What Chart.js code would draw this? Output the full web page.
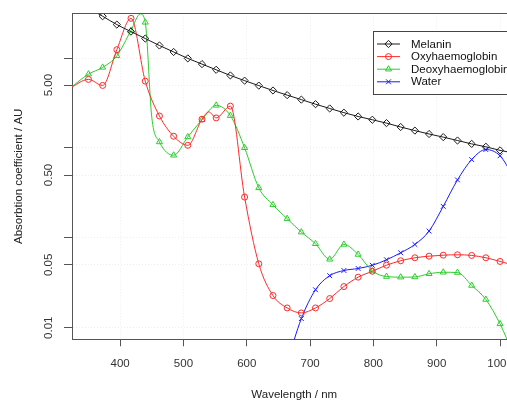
<!DOCTYPE html>
<html>
<head>
<meta charset="utf-8">
<script src="https://cdn.jsdelivr.net/npm/chart.js@4/dist/chart.umd.min.js"></script>
<style>
  html, body { margin: 0; padding: 0; background: #fff; overflow: hidden; width: 507px; height: 400px; }
  #wrap { width: 530px; height: 400px; }
</style>
</head>
<body>
<div id="wrap"><canvas id="c" width="530" height="400"></canvas></div>
<script>
// ---------- data ----------
const markerWavelengths = [350, 372.4, 394.8, 417.2, 439.7, 462.1, 484.5, 506.9, 529.3, 551.7, 574.1, 596.6, 619.0, 641.4, 663.8, 686.2, 708.6, 731.0, 753.4, 775.9, 798.3, 820.7, 843.1, 865.5, 887.9, 910.3, 932.8, 955.2, 977.6, 1000];

const melaninWavelengths = [350, 372.4, 394.8, 417.2, 439.7, 462.1, 484.5, 506.9, 529.3, 551.7, 574.1, 596.6, 619.0, 641.4, 663.8, 686.2, 708.6, 731.0, 753.4, 775.9, 798.3, 820.7, 843.1, 865.5, 887.9, 910.3, 932.8, 955.2, 977.6, 1000, 1020];
const melaninValues = [36.2, 29.2, 23.6, 19.7, 16.5, 13.8, 11.7, 9.92, 8.57, 7.41, 6.41, 5.61, 4.94, 4.36, 3.87, 3.45, 3.07, 2.75, 2.47, 2.24, 2.06, 1.89, 1.71, 1.56, 1.43, 1.32, 1.21, 1.11, 1.03, 0.94, 0.88];

const oxyWavelengths = [320, 350, 372.4, 394.8, 417.2, 439.7, 462.1, 484.5, 506.9, 529.3, 540, 551.7, 574.1, 596.6, 619.0, 641.4, 663.8, 686.2, 708.6, 731.0, 753.4, 775.9, 798.3, 820.7, 843.1, 865.5, 887.9, 910.3, 932.8, 955.2, 977.6, 1000, 1020];
const oxyValues = [4.6, 5.79, 4.96, 12.4, 27.7, 5.54, 2.27, 1.35, 1.07, 2.09, 2.52, 2.16, 2.92, 0.284, 0.0514, 0.0228, 0.0166, 0.0146, 0.0166, 0.0211, 0.0287, 0.0365, 0.0425, 0.0496, 0.0556, 0.0600, 0.0625, 0.0641, 0.0648, 0.0637, 0.0600, 0.0546, 0.0499];

const deoxyWavelengths = [320, 350, 372.4, 394.8, 417.2, 432, 439.7, 450, 462.1, 484.5, 506.9, 529.3, 551.7, 574.1, 596.6, 619.0, 641.4, 663.8, 686.2, 708.6, 731.0, 753.4, 775.9, 798.3, 820.7, 843.1, 865.5, 887.9, 910.3, 932.8, 955.2, 977.6, 1000, 1020];
const deoxyValues = [4.57, 6.63, 7.88, 10.6, 20.3, 31.0, 25.0, 2.2, 1.166, 0.829, 1.326, 2.06, 2.98, 2.29, 1.005, 0.360, 0.2327, 0.1633, 0.1158, 0.0859, 0.0577, 0.0844, 0.0653, 0.0428, 0.0371, 0.0365, 0.0367, 0.0398, 0.0414, 0.0411, 0.0295, 0.0206, 0.01103, 0.00528];

const waterWavelengths = [663.8, 686.2, 708.6, 731.0, 753.4, 775.9, 798.3, 820.7, 843.1, 865.5, 887.9, 910.3, 932.8, 955.2, 977.6, 1000, 1020];
const waterValues = [0.0041, 0.01263, 0.02645, 0.0379, 0.0433, 0.0456, 0.0495, 0.0570, 0.0682, 0.0844, 0.1188, 0.2239, 0.441, 0.7425, 0.960, 0.818, 0.496];

const seriesLabels = ['Melanin', 'Oxyhaemoglobin', 'Deoxyhaemoglobin', 'Water'];
const xTickValues = [400, 500, 600, 700, 800, 900, 1000];
const yTickValues = [0.01, 0.05, 0.1, 0.5, 1, 5, 10];
const yTickLabels = ['0.01', '0.05', '', '0.50', '', '5.00', ''];

// ---------- chart ----------
const FONT = '"Liberation Sans", Arial, Helvetica, sans-serif';
const markerSet = new Set(markerWavelengths);
const toPoints = (xs, ys) => xs.map((x, i) => ({ x: x, y: ys[i] }));

function makeSet(label, xs, ys, color, style, r) {
  return {
    label: label,
    data: toPoints(xs, ys),
    borderColor: color,
    backgroundColor: 'rgba(0,0,0,0)',
    borderWidth: 1,
    pointStyle: style,
    pointBorderColor: color,
    pointBackgroundColor: 'rgba(0,0,0,0)',
    pointBorderWidth: 1,
    pointRadius: (ctx) => (ctx.raw && markerSet.has(ctx.raw.x)) ? r : 0,
    markerRadius: r,
    cubicInterpolationMode: 'monotone',
    clip: 0,
    fill: false
  };
}

const boxAndLegend = {
  id: 'boxAndLegend',
  afterDraw(chart) {
    const ctx = chart.ctx;
    const a = chart.chartArea;
    ctx.save();
    // top / right frame of the plot box
    ctx.strokeStyle = '#555';
    ctx.lineWidth = 1;
    ctx.beginPath();
    ctx.moveTo(Math.round(a.left) + 0.5, Math.round(a.top) + 0.5);
    ctx.lineTo(Math.round(a.right) + 0.5, Math.round(a.top) + 0.5);
    ctx.lineTo(Math.round(a.right) + 0.5, Math.round(a.bottom) + 0.5);
    ctx.stroke();

    // legend
    const lx = 373.5, ly = 31.5, lw = 150, lh = 63;
    ctx.fillStyle = '#fff';
    ctx.fillRect(lx, ly, lw, lh);
    ctx.strokeStyle = '#444';
    ctx.strokeRect(lx, ly, lw, lh);
    ctx.font = '11.5px ' + FONT;
    ctx.textBaseline = 'middle';
    ctx.textAlign = 'left';
    chart.data.datasets.forEach((ds, i) => {
      const y = 44 + i * 12.6;
      ctx.strokeStyle = ds.borderColor;
      ctx.lineWidth = 1;
      ctx.setLineDash([]);
      ctx.beginPath();
      ctx.moveTo(377, y);
      ctx.lineTo(400, y);
      ctx.stroke();
      ctx.fillStyle = 'rgba(0,0,0,0)';
      Chart.helpers.drawPoint(ctx, { pointStyle: ds.pointStyle, radius: ds.markerRadius, borderWidth: 1, rotation: 0 }, 388.5, y);
      ctx.fillStyle = '#111';
      ctx.fillText(ds.label, 411, y + 0.5);
    });
    ctx.restore();
  }
};

new Chart(document.getElementById('c'), {
  type: 'line',
  data: {
    datasets: [
      makeSet(seriesLabels[0], melaninWavelengths, melaninValues, '#1a1a1a', 'rectRot', 3.6),
      makeSet(seriesLabels[1], oxyWavelengths, oxyValues, '#ff2a2a', 'circle', 3),
      makeSet(seriesLabels[2], deoxyWavelengths, deoxyValues, '#2ecc2e', 'triangle', 3.5),
      makeSet(seriesLabels[3], waterWavelengths, waterValues, '#1a1aff', 'crossRot', 3.4)
    ]
  },
  options: {
    responsive: false,
    animation: false,
    events: [],
    layout: { padding: { top: 13.3, right: 13.5, left: 0, bottom: 0 } },
    elements: { line: { capBezierPoints: false } },
    plugins: { legend: { display: false }, tooltip: { enabled: false } },
    scales: {
      x: {
        type: 'linear',
        min: 324,
        max: 1026,
        afterBuildTicks: (s) => { s.ticks = xTickValues.map(v => ({ value: v })); },
        afterFit: (s) => { s.height = 60.7; },
        ticks: { autoSkip: false, padding: 10.8, color: '#333', font: { family: FONT, size: 11.5 }, minRotation: 0, maxRotation: 0,
                 callback: (v) => String(v) },
        grid: { color: 'rgba(0,0,0,0.07)', tickColor: '#555', tickLength: 7, tickBorderDash: [] },
        border: { color: '#555', width: 1, dash: [1, 2] },
        title: { display: true, text: 'Wavelength / nm', color: '#222', font: { family: FONT, size: 11.5 }, padding: { top: 0, bottom: -2 } }
      },
      y: {
        type: 'logarithmic',
        min: 0.00743,
        max: 31.5,
        afterBuildTicks: (s) => { s.ticks = yTickValues.map(v => ({ value: v })); },
        afterFit: (s) => { s.width = 72; },
        ticks: { autoSkip: false, padding: 3.8, color: '#333', font: { family: FONT, size: 11.5 }, minRotation: 90, maxRotation: 90, crossAlign: 'center',
                 callback: (v, i) => yTickLabels[i] },
        grid: { color: 'rgba(0,0,0,0.07)', tickColor: '#555', tickLength: 8, tickBorderDash: [] },
        border: { color: '#555', width: 1, dash: [1, 2] },
        title: { display: true, text: 'Absorbtion coefficient / AU', color: '#222', font: { family: FONT, size: 11.5 }, padding: { top: 12, bottom: 0 } }
      }
    }
  },
  plugins: [boxAndLegend]
});
</script>
</body>
</html>
